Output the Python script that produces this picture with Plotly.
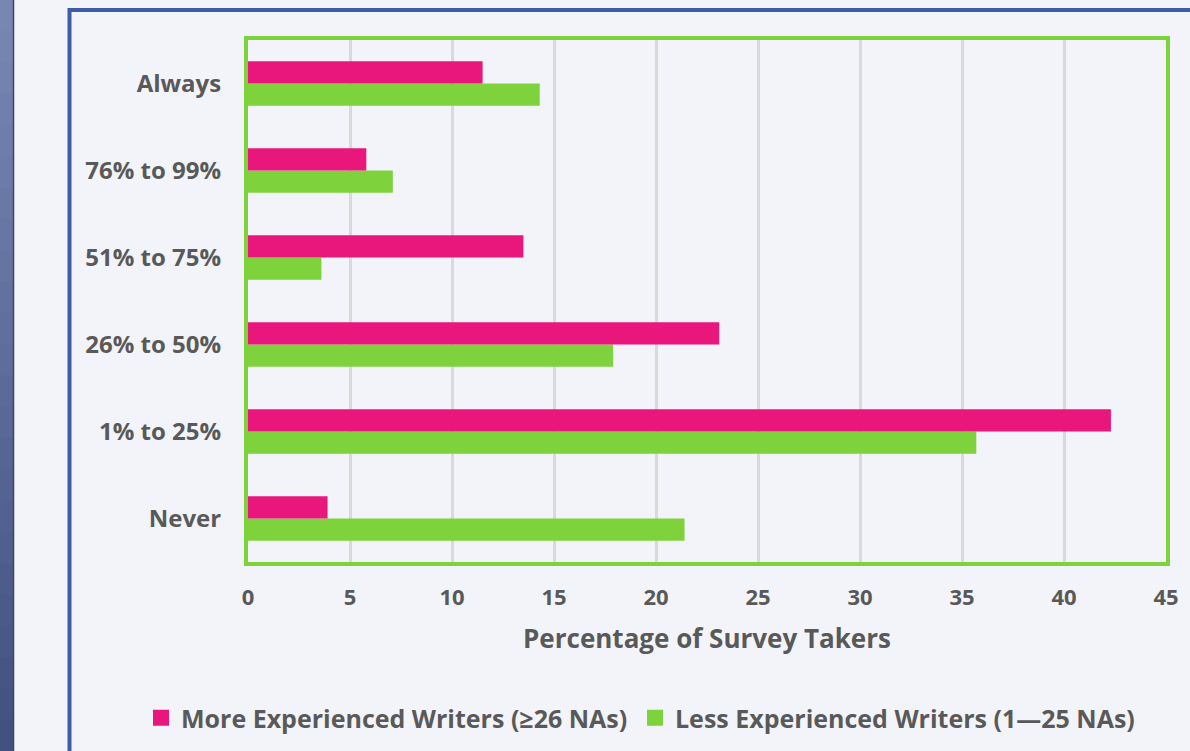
import plotly.graph_objects as go

categories = ["Never", "1% to 25%", "26% to 50%", "51% to 75%", "76% to 99%", "Always"]
more_experienced = [3.9, 42.3, 23.1, 13.5, 5.8, 11.5]
less_experienced = [21.4, 35.7, 17.9, 3.6, 7.1, 14.3]
x_ticks = [0, 5, 10, 15, 20, 25, 30, 35, 40, 45]
series_names = ["More Experienced Writers (\u226526 NAs)", "Less Experienced Writers (1\u201425 NAs)"]

W, H = 1190, 751
L, R, T, B = 248, 1166, 40, 562

def px(x):
    return (x - L) / (R - L)

def py(y):
    return (B - y) / (B - T)

TEXT = "#595959"
PINK = "#E9177B"
GREEN = "#7ED23B"
FONT = "Open Sans"

fig = go.Figure()
fig.add_trace(go.Bar(
    y=categories, x=less_experienced, orientation="h", name=series_names[1],
    marker=dict(color=GREEN, line=dict(width=0)), showlegend=False,
))
fig.add_trace(go.Bar(
    y=categories, x=more_experienced, orientation="h", name=series_names[0],
    marker=dict(color=PINK, line=dict(width=0)), showlegend=False,
))
for nm, col, lg in zip(series_names, [PINK, GREEN], ["legend", "legend2"]):
    fig.add_trace(go.Scatter(
        x=[None], y=[None], mode="markers", name=nm, legend=lg,
        marker=dict(symbol="square", size=16, color=col), showlegend=True,
    ))

shapes = []
top_c = (0x7A, 0x88, 0xB4)
bot_c = (0x40, 0x50, 0x80)
n = 24
for i in range(n):
    f = (i + 0.5) / n
    c = tuple(int(top_c[k] + (bot_c[k] - top_c[k]) * f) for k in range(3))
    shapes.append(dict(type="rect", xref="paper", yref="paper",
                       x0=px(0), x1=px(13), y0=py(H * i / n), y1=py(H * (i + 1) / n + 1),
                       fillcolor="rgb(%d,%d,%d)" % c, line=dict(width=0), layer="below"))
shapes.append(dict(type="line", xref="paper", yref="paper",
                   x0=px(13.5), x1=px(13.5), y0=py(0), y1=py(H),
                   line=dict(color="#3C4660", width=1.5), layer="below"))
shapes.append(dict(type="rect", xref="paper", yref="paper",
                   x0=px(69.5), x1=px(W + 20), y0=py(10), y1=py(H + 20),
                   line=dict(color="#3F5BA9", width=4), fillcolor="rgba(0,0,0,0)", layer="below"))

legend_font = dict(family=FONT, size=25, color=TEXT, weight="bold")
fig.update_layout(
    width=W, height=H,
    margin=dict(l=L, r=W - R, t=T, b=H - B, autoexpand=False),
    paper_bgcolor="#F3F4FA", plot_bgcolor="#F3F4FA",
    barmode="group", bargap=0.49, bargroupgap=0,
    font=dict(family=FONT, color=TEXT, size=20),
    shapes=shapes,
    legend=dict(orientation="h", xref="container", yref="container",
                x=141 / W, xanchor="left", y=1 - 718 / H, yanchor="middle",
                font=legend_font, bgcolor="rgba(0,0,0,0)", itemwidth=30),
    legend2=dict(orientation="h", xref="container", yref="container",
                 x=635 / W, xanchor="left", y=1 - 718 / H, yanchor="middle",
                 font=legend_font, bgcolor="rgba(0,0,0,0)", itemwidth=30),
)
fig.update_xaxes(
    range=[0, 45], tickvals=x_ticks, ticktext=[str(v) for v in x_ticks],
    showgrid=True, gridcolor="#D9D9D9", gridwidth=2.5,
    zeroline=False, showline=True, mirror=True, linecolor=GREEN, linewidth=4,
    ticks="", ticklabelstandoff=13,
    tickfont=dict(family=FONT, size=22, color=TEXT, weight="bold"),
    title=dict(text="Percentage of Survey Takers", standoff=20,
               font=dict(family=FONT, size=26, color=TEXT, weight="bold")),
)
fig.update_yaxes(
    showgrid=False, zeroline=False, showline=True, mirror=True, linecolor=GREEN, linewidth=4,
    ticks="", ticklabelstandoff=18,
    tickfont=dict(family=FONT, size=24, color=TEXT, weight="bold"),
)

fig.write_html("out.html")
